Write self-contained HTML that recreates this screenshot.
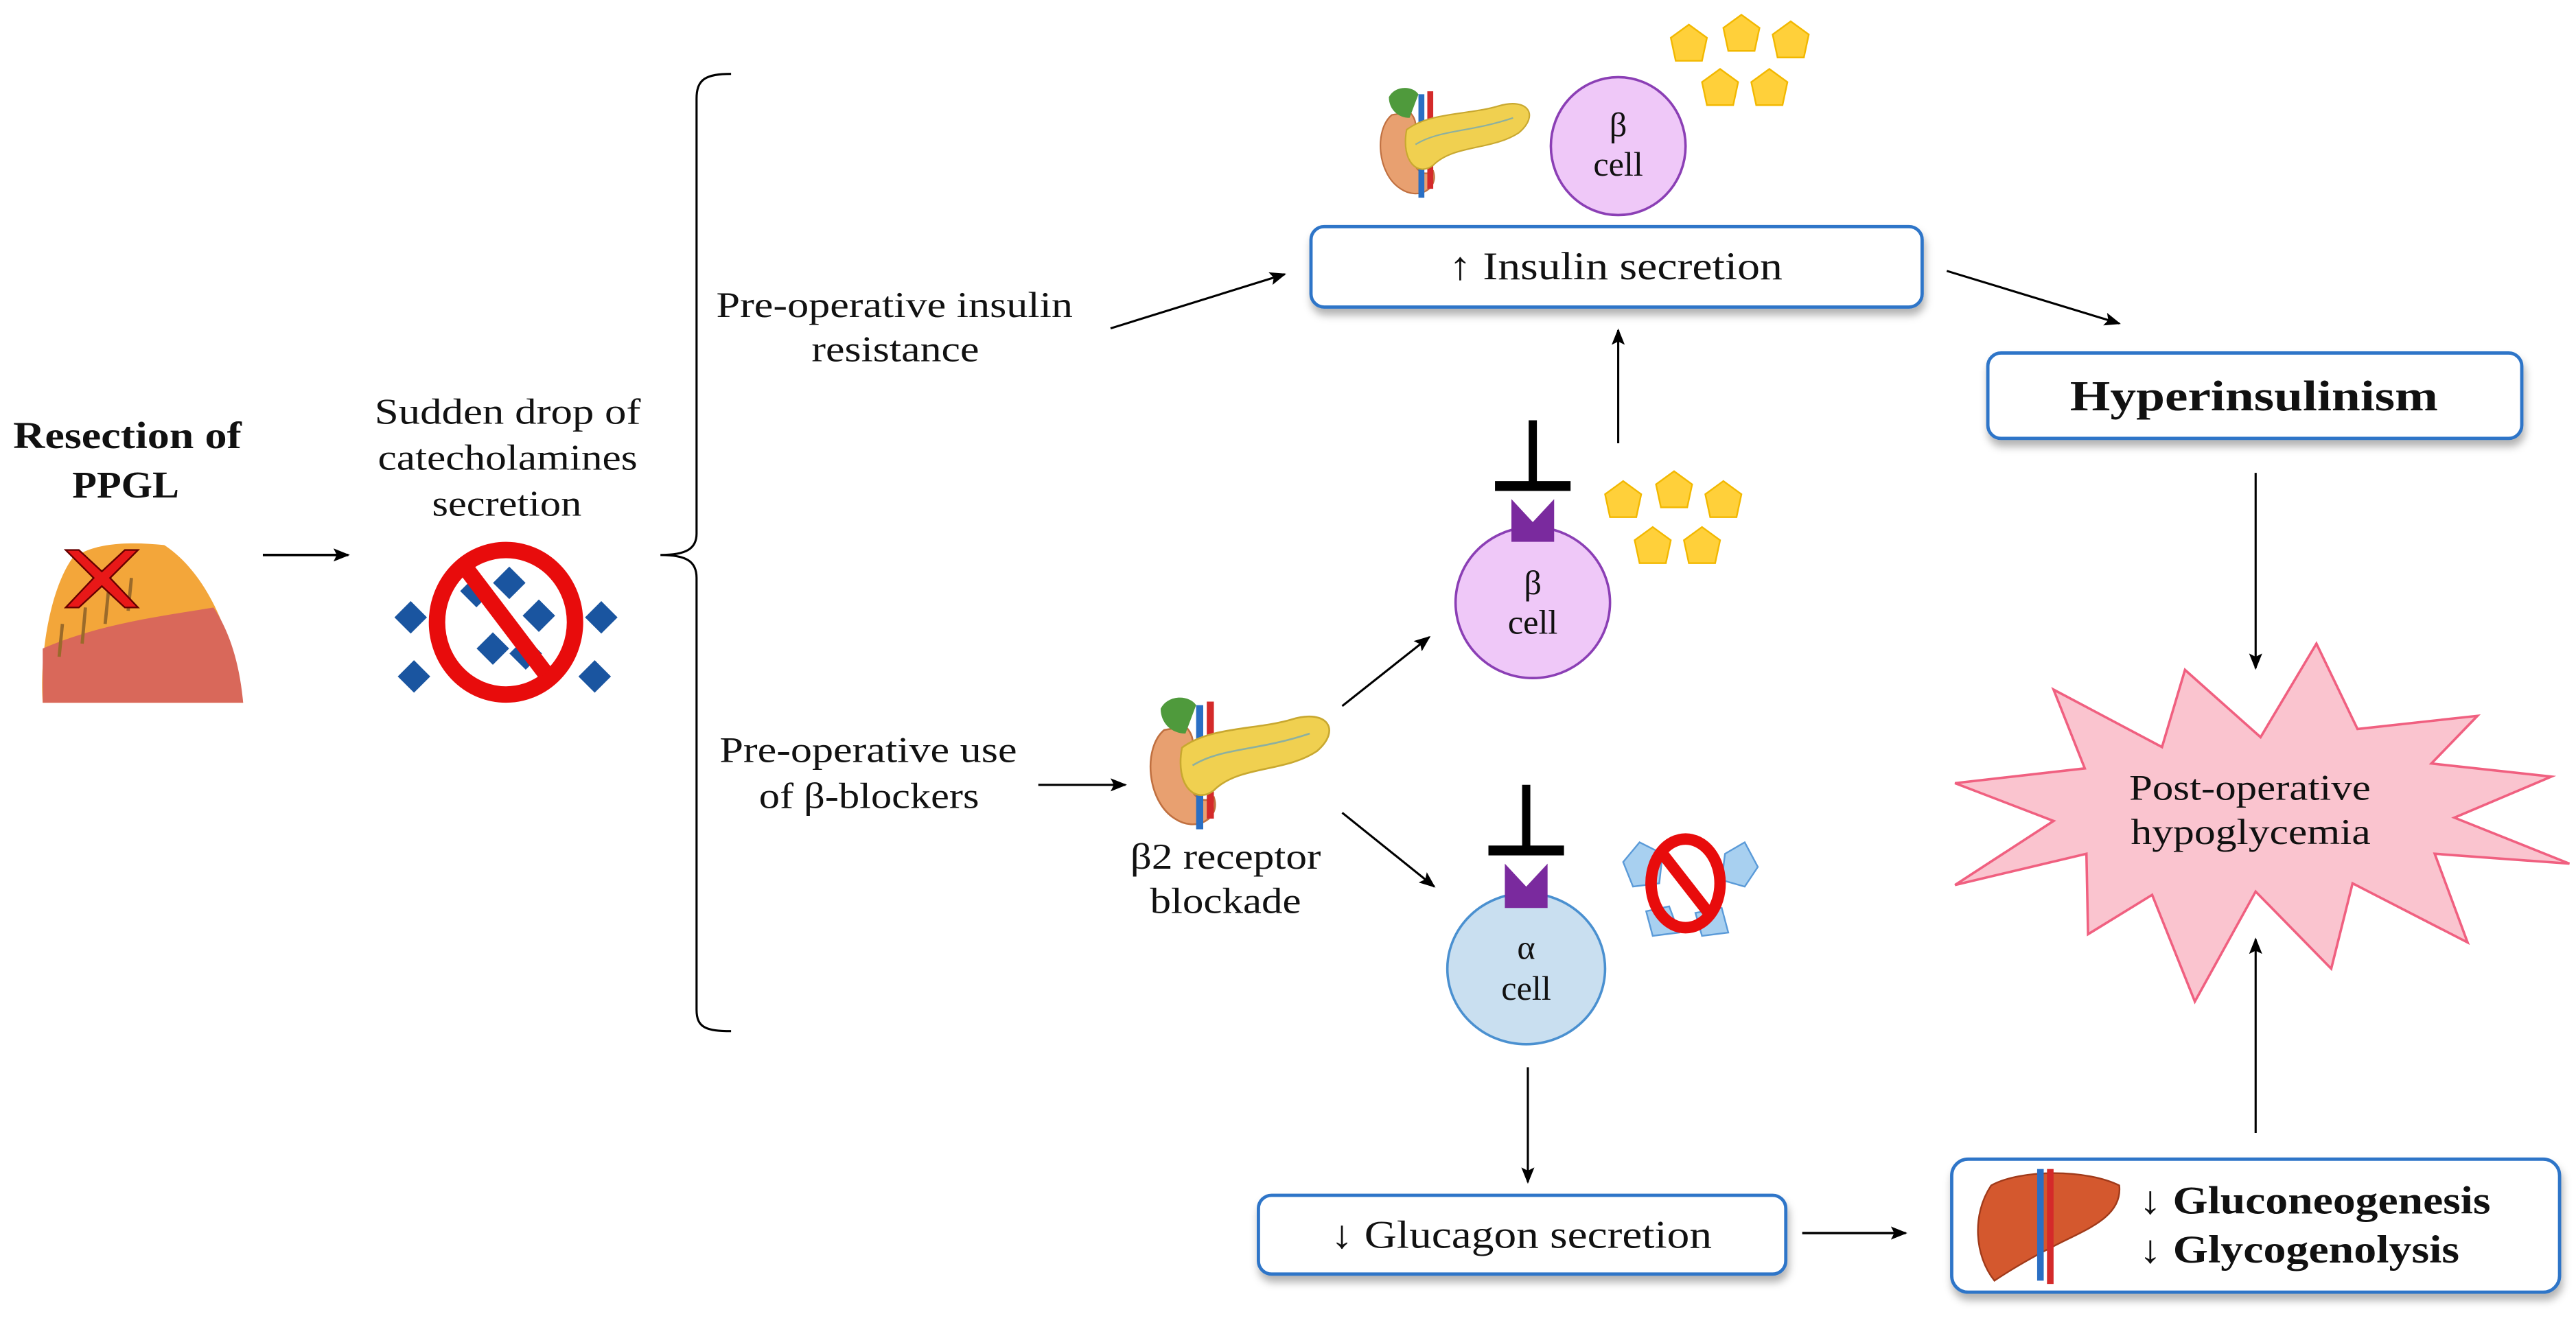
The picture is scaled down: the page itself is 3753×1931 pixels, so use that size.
<!DOCTYPE html>
<html><head><meta charset="utf-8"><style>
html,body{margin:0;padding:0;background:#fff}
svg{display:block}
</style></head><body>
<svg width="3753" height="1931" viewBox="0 0 1568 807" preserveAspectRatio="none" xmlns="http://www.w3.org/2000/svg" font-family="Liberation Serif, serif">
<defs>
<marker id="ah" markerWidth="10" markerHeight="8" refX="9" refY="4" orient="auto" markerUnits="userSpaceOnUse">
<path d="M0,0 L10,4 L0,8 L2,4 Z" fill="#000"/></marker>
<filter id="sh" x="-10%" y="-20%" width="120%" height="160%"><feDropShadow dx="1" dy="4" stdDeviation="2.5" flood-color="#000" flood-opacity="0.3"/></filter>
<g id="pent"><polygon points="0,-12 11,-4 8,10 -8,10 -11,-4" fill="#ffd03a" stroke="#f2b800" stroke-width="1"/></g>
<g id="panc">
<path d="M8,20 C-4,30 -2,60 14,70 C26,78 40,70 36,58 C30,62 22,58 22,46 C22,34 28,26 20,18 Z" fill="#e8a070" stroke="#c07040" stroke-width="1"/>
<path d="M6,8 C10,0 22,0 26,6 L20,22 C12,22 6,16 6,8Z" fill="#4f9a3c"/>
<rect x="26" y="6" width="4" height="70" fill="#2a6fc4"/>
<rect x="32" y="4" width="4" height="66" fill="#d42a2a"/>
<path d="M18,30 C34,18 60,20 80,14 C100,8 108,20 94,32 C76,44 50,40 36,54 C26,62 14,52 18,30Z" fill="#f0d050" stroke="#c8a830" stroke-width="1"/>
<path d="M24,40 C40,30 60,32 90,22" fill="none" stroke="#8cb0a0" stroke-width="1"/>
</g>
</defs>
<g font-family="Liberation Serif, serif" fill="#111" lengthAdjust="spacingAndGlyphs">

<!-- Left section -->
<text x="8" y="273" font-size="23" font-weight="bold" textLength="139" lengthAdjust="spacingAndGlyphs">Resection of</text>
<text x="44" y="303" font-size="23" font-weight="bold" textLength="65" lengthAdjust="spacingAndGlyphs">PPGL</text>
<path d="M44,340 C58,330 80,330 100,332 C120,345 140,375 148,428 L26,428 C24,400 30,360 44,340Z" fill="#f3a63a"/>
<path d="M26,395 C60,380 100,375 130,370 C140,385 146,405 148,428 L26,428Z" fill="#d9685a"/>
<g stroke="#9a6a2a" stroke-width="2"><line x1="38" y1="380" x2="36" y2="400"/><line x1="52" y1="370" x2="50" y2="392"/><line x1="66" y1="360" x2="64" y2="380"/><line x1="80" y1="352" x2="78" y2="372"/></g>
<path d="M40,335 L48,335 L62,348 L76,335 L84,335 L67,352 L84,370 L76,370 L62,357 L48,370 L40,370 L57,352Z" fill="#e81818" stroke="#600" stroke-width="1"/>
<line x1="160" y1="338" x2="212" y2="338" stroke="#000" stroke-width="1.5" marker-end="url(#ah)"/>

<text x="228" y="258" font-size="22" textLength="162" lengthAdjust="spacingAndGlyphs">Sudden drop of</text>
<text x="230" y="286" font-size="22" textLength="158" lengthAdjust="spacingAndGlyphs">catecholamines</text>
<text x="263" y="314" font-size="22" textLength="91" lengthAdjust="spacingAndGlyphs">secretion</text>
<g fill="#1a55a0">
<rect x="-7" y="-7" width="14" height="14" transform="translate(250,376) rotate(45)"/>
<rect x="-7" y="-7" width="14" height="14" transform="translate(366,376) rotate(45)"/>
<rect x="-7" y="-7" width="14" height="14" transform="translate(252,412) rotate(45)"/>
<rect x="-7" y="-7" width="14" height="14" transform="translate(362,412) rotate(45)"/>
<rect x="-7" y="-7" width="14" height="14" transform="translate(290,360) rotate(45)"/>
<rect x="-7" y="-7" width="14" height="14" transform="translate(310,355) rotate(45)"/>
<rect x="-7" y="-7" width="14" height="14" transform="translate(328,375) rotate(45)"/>
<rect x="-7" y="-7" width="14" height="14" transform="translate(300,395) rotate(45)"/>
<rect x="-7" y="-7" width="14" height="14" transform="translate(320,398) rotate(45)"/>
</g>
<ellipse cx="308" cy="379" rx="42" ry="44" fill="none" stroke="#e80c0c" stroke-width="10"/>
<line x1="285" y1="348" x2="332" y2="410" stroke="#e80c0c" stroke-width="10"/>

<!-- brace -->
<path d="M445,45 C430,45 424,48 424,60 L424,325 C424,334 418,338 402,338 C418,338 424,342 424,352 L424,615 C424,626 430,628 445,628" fill="none" stroke="#000" stroke-width="1.3"/>

<text x="436" y="193" font-size="22" textLength="217" lengthAdjust="spacingAndGlyphs">Pre-operative insulin</text>
<text x="494" y="220" font-size="22" textLength="102" lengthAdjust="spacingAndGlyphs">resistance</text>
<line x1="676" y1="200" x2="782" y2="167" stroke="#000" stroke-width="1.3" marker-end="url(#ah)"/>

<text x="438" y="464" font-size="22" textLength="181" lengthAdjust="spacingAndGlyphs">Pre-operative use</text>
<text x="462" y="492" font-size="22" textLength="134" lengthAdjust="spacingAndGlyphs">of β-blockers</text>
<line x1="632" y1="478" x2="685" y2="478" stroke="#000" stroke-width="1.3" marker-end="url(#ah)"/>

<use href="#panc" transform="translate(700,423) scale(1.08)"/>
<text x="688" y="529" font-size="22" textLength="116" lengthAdjust="spacingAndGlyphs">β2 receptor</text>
<text x="700" y="556" font-size="22" textLength="92" lengthAdjust="spacingAndGlyphs">blockade</text>
<line x1="817" y1="430" x2="870" y2="388" stroke="#000" stroke-width="1.3" marker-end="url(#ah)"/>
<line x1="817" y1="495" x2="873" y2="540" stroke="#000" stroke-width="1.3" marker-end="url(#ah)"/>

<!-- top -->
<use href="#panc" transform="translate(840,52) scale(0.9)"/>
<ellipse cx="985" cy="89" rx="41" ry="42" fill="#efc8f8" stroke="#8b3fb5" stroke-width="1.5"/>
<text x="985" y="83" font-size="21" text-anchor="middle">β</text>
<text x="985" y="107" font-size="21" text-anchor="middle">cell</text>
<use href="#pent" x="1028" y="27"/><use href="#pent" x="1060" y="21"/><use href="#pent" x="1090" y="25"/>
<use href="#pent" x="1047" y="54"/><use href="#pent" x="1077" y="54"/>
<rect x="798" y="138" width="372" height="49" rx="8" fill="#fff" stroke="#2e75c8" stroke-width="2" filter="url(#sh)"/>
<text x="882" y="170" font-size="24" textLength="203" lengthAdjust="spacingAndGlyphs">↑ Insulin secretion</text>
<line x1="1185" y1="165" x2="1290" y2="197" stroke="#000" stroke-width="1.3" marker-end="url(#ah)"/>
<rect x="1210" y="215" width="325" height="52" rx="8" fill="#fff" stroke="#2e75c8" stroke-width="2" filter="url(#sh)"/>
<text x="1260" y="250" font-size="26" font-weight="bold" textLength="224" lengthAdjust="spacingAndGlyphs">Hyperinsulinism</text>
<line x1="1373" y1="288" x2="1373" y2="407" stroke="#000" stroke-width="1.3" marker-end="url(#ah)"/>

<!-- middle beta cell -->
<line x1="985" y1="270" x2="985" y2="201" stroke="#000" stroke-width="1.3" marker-end="url(#ah)"/>
<ellipse cx="933" cy="367" rx="47" ry="46" fill="#efc8f8" stroke="#8b3fb5" stroke-width="1.5"/>
<path d="M920,304 L933,318 L946,304 L946,330 L920,330Z" fill="#7a2a9e"/>
<line x1="933" y1="256" x2="933" y2="294" stroke="#000" stroke-width="5"/>
<line x1="910" y1="296" x2="956" y2="296" stroke="#000" stroke-width="6"/>
<text x="933" y="362" font-size="21" text-anchor="middle">β</text>
<text x="933" y="386" font-size="21" text-anchor="middle">cell</text>
<use href="#pent" x="988" y="305"/><use href="#pent" x="1019" y="299"/><use href="#pent" x="1049" y="305"/>
<use href="#pent" x="1006" y="333"/><use href="#pent" x="1036" y="333"/>

<!-- alpha cell -->
<ellipse cx="929" cy="590" rx="48" ry="46" fill="#c9dff0" stroke="#4a90d0" stroke-width="1.5"/>
<path d="M916,526 L929,540 L942,526 L942,553 L916,553Z" fill="#7a2a9e"/>
<line x1="929" y1="478" x2="929" y2="516" stroke="#000" stroke-width="5"/>
<line x1="906" y1="518" x2="952" y2="518" stroke="#000" stroke-width="6"/>
<text x="929" y="584" font-size="21" text-anchor="middle">α</text>
<text x="929" y="609" font-size="21" text-anchor="middle">cell</text>
<g fill="#a8d0f0" stroke="#5a9ad8" stroke-width="1">
<polygon points="988,525 998,513 1012,520 1010,538 994,540"/>
<polygon points="1050,520 1062,513 1070,528 1062,540 1048,536"/>
<polygon points="1002,555 1016,552 1022,568 1006,570"/>
<polygon points="1032,556 1048,553 1052,568 1036,570"/>
</g>
<ellipse cx="1026" cy="538" rx="21" ry="27" fill="none" stroke="#e80c0c" stroke-width="7"/>
<line x1="1012" y1="520" x2="1040" y2="556" stroke="#e80c0c" stroke-width="7"/>
<line x1="930" y1="650" x2="930" y2="720" stroke="#000" stroke-width="1.3" marker-end="url(#ah)"/>

<rect x="766" y="728" width="321" height="48" rx="8" fill="#fff" stroke="#2e75c8" stroke-width="2" filter="url(#sh)"/>
<text x="810" y="760" font-size="24" textLength="232" lengthAdjust="spacingAndGlyphs">↓ Glucagon secretion</text>
<line x1="1097" y1="751" x2="1160" y2="751" stroke="#000" stroke-width="1.5" marker-end="url(#ah)"/>

<rect x="1188" y="706" width="370" height="81" rx="10" fill="#fff" stroke="#2e75c8" stroke-width="2" filter="url(#sh)"/>
<path d="M1212,722 C1230,712 1270,712 1290,722 C1292,740 1272,748 1256,756 C1240,764 1226,772 1214,780 C1202,765 1200,740 1212,722Z" fill="#d4582e" stroke="#a03a1a" stroke-width="1"/>
<rect x="1240" y="712" width="4" height="68" fill="#2a6fc4"/>
<rect x="1246" y="712" width="4" height="70" fill="#d42a2a"/>
<text x="1302" y="739" font-size="24" font-weight="bold" textLength="214" lengthAdjust="spacingAndGlyphs">↓ Gluconeogenesis</text>
<text x="1302" y="769" font-size="24" font-weight="bold" textLength="195" lengthAdjust="spacingAndGlyphs">↓ Glycogenolysis</text>
<line x1="1373" y1="690" x2="1373" y2="572" stroke="#000" stroke-width="1.3" marker-end="url(#ah)"/>

<!-- starburst -->
<polygon points="1190,477 1269,468 1250,420 1316,455 1330,408 1376,449 1410,392 1435,444 1508,436 1480,465 1553,473 1494,498 1564,526 1482,520 1502,574 1432,538 1419,590 1373,543 1336,610 1310,545 1271,569 1270,520 1190,539 1250,500" fill="#fac4cf" stroke="#f06080" stroke-width="1.5"/>
<text x="1296" y="487" font-size="22" textLength="147" lengthAdjust="spacingAndGlyphs">Post-operative</text>
<text x="1297" y="514" font-size="22" textLength="146" lengthAdjust="spacingAndGlyphs">hypoglycemia</text>
</g>
</svg>
</body></html>
